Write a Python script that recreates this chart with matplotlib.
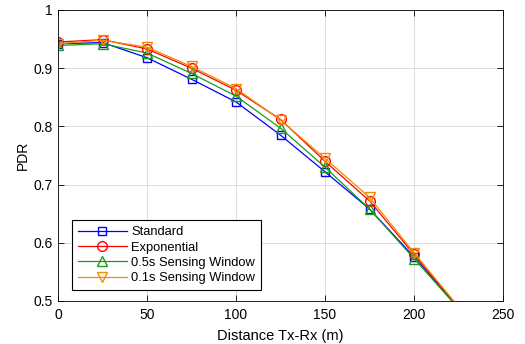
import matplotlib.pyplot as plt

plt.rcParams['font.family'] = ['Liberation Sans', 'DejaVu Sans']

distance = [0, 25, 50, 75, 100, 125, 150, 175, 200, 225]
standard = [0.942, 0.944, 0.918, 0.881, 0.842, 0.785, 0.722, 0.658, 0.576, 0.488]
exponential = [0.945, 0.949, 0.933, 0.900, 0.862, 0.812, 0.740, 0.672, 0.580, 0.489]
sensing_05 = [0.939, 0.942, 0.926, 0.891, 0.852, 0.797, 0.730, 0.658, 0.573, 0.487]
sensing_01 = [0.942, 0.948, 0.936, 0.903, 0.865, 0.811, 0.745, 0.678, 0.583, 0.490]

fig = plt.figure(figsize=(5.25, 3.44), dpi=100)
ax = fig.add_axes([0.1105, 0.125, 0.8476, 0.846])

ax.plot(distance, standard, marker='s', color='#0000ff', mfc='none', ms=6, lw=0.9, label='Standard')
ax.plot(distance, exponential, marker='o', color='#ff0000', mfc='none', ms=7, lw=0.9, label='Exponential')
ax.plot(distance, sensing_05, marker='^', color='#1a9a1a', mfc='none', ms=7, lw=0.9, label='0.5s Sensing Window')
ax.plot(distance, sensing_01, marker='v', color='#f08c00', mfc='none', ms=7, lw=0.9, label='0.1s Sensing Window')

ax.set_xlim(0, 250)
ax.set_ylim(0.5, 1)
ax.set_xticks([0, 50, 100, 150, 200, 250])
ax.set_yticks([0.5, 0.6, 0.7, 0.8, 0.9, 1])
ax.set_yticklabels(['0.5', '0.6', '0.7', '0.8', '0.9', '1'])
ax.grid(True, color='#dcdcdc', lw=0.7)
ax.set_axisbelow(True)
ax.tick_params(direction='in', labelsize=10, top=True, right=True, length=4, width=0.6, pad=4)
ax.tick_params(axis='x', pad=5)
for s in ax.spines.values():
    s.set_linewidth(0.6)

ax.set_xlabel('Distance Tx-Rx (m)', fontsize=10.5, labelpad=5)
ax.set_ylabel('PDR', fontsize=10, labelpad=2.5)

leg = ax.legend(loc='lower left', bbox_to_anchor=(0.031, 0.038), borderaxespad=0, fontsize=9.3,
                fancybox=False, edgecolor='black', framealpha=1, handlelength=3.8,
                handletextpad=0.35, borderpad=0.45, labelspacing=0.25)
leg.get_frame().set_linewidth(0.8)

plt.savefig('out.png', dpi=100)
